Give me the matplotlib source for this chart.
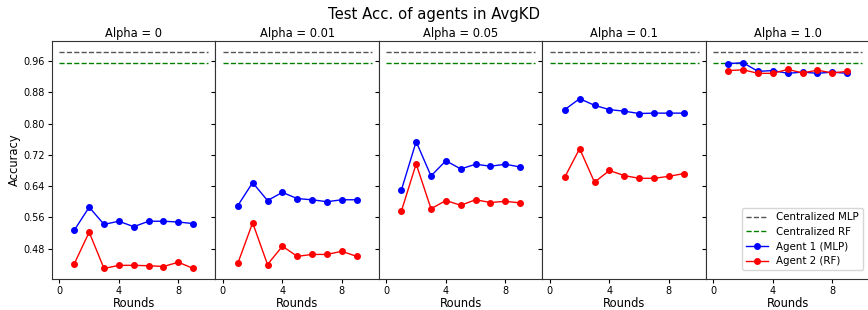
import matplotlib
matplotlib.use("Agg")
import matplotlib.pyplot as plt
import numpy as np

rounds = [1, 2, 3, 4, 5, 6, 7, 8, 9]
alphas = ["0", "0.01", "0.05", "0.1", "1.0"]
central_mlp = 0.984
central_rf = 0.955

agent1_mlp = [
    [0.527, 0.586, 0.542, 0.550, 0.536, 0.550, 0.550, 0.548, 0.544],
    [0.590, 0.649, 0.603, 0.624, 0.608, 0.605, 0.600, 0.605, 0.605],
    [0.629, 0.754, 0.666, 0.705, 0.684, 0.696, 0.691, 0.696, 0.689],
    [0.836, 0.864, 0.847, 0.836, 0.832, 0.826, 0.827, 0.827, 0.827],
    [0.954, 0.956, 0.934, 0.936, 0.929, 0.932, 0.929, 0.932, 0.929],
]
agent2_rf = [
    [0.441, 0.522, 0.429, 0.437, 0.437, 0.436, 0.434, 0.445, 0.429],
    [0.442, 0.546, 0.439, 0.486, 0.460, 0.465, 0.465, 0.473, 0.460],
    [0.575, 0.697, 0.582, 0.603, 0.591, 0.605, 0.598, 0.601, 0.597],
    [0.663, 0.736, 0.650, 0.680, 0.667, 0.660, 0.660, 0.665, 0.672],
    [0.936, 0.938, 0.929, 0.929, 0.939, 0.930, 0.937, 0.930, 0.934],
]
yticks = [0.48, 0.56, 0.64, 0.72, 0.80, 0.88, 0.96]
xticks = [0, 4, 8]

fig, axes = plt.subplots(1, 5, sharey=True, figsize=(8.68, 3.10), dpi=100)
fig.subplots_adjust(left=0.0599, right=1.0017, top=0.868, bottom=0.10, wspace=0)

for i, ax in enumerate(axes):
    ax.hlines(central_mlp, 0, 10, colors="#555555", linestyles="--", linewidth=1.0, label="Centralized MLP")
    ax.hlines(central_rf, 0, 10, colors="green", linestyles="--", linewidth=1.0, label="Centralized RF")
    ax.plot(rounds, agent1_mlp[i], "-o", color="blue", markersize=4, linewidth=1.0, label="Agent 1 (MLP)")
    ax.plot(rounds, agent2_rf[i], "-o", color="red", markersize=4, linewidth=1.0, label="Agent 2 (RF)")
    ax.set_title(f"Alpha = {alphas[i]}", fontsize=8.3, pad=3)
    ax.set_xlabel("Rounds", fontsize=8.3, labelpad=1)
    ax.set_xticks(xticks)
    ax.tick_params(labelsize=7, length=3, width=0.8, pad=2)
    ax.set_xlim(-0.5, 10.5)
    for s in ax.spines.values():
        s.set_color("#333333")

axes[0].set_yticks(yticks)
axes[0].set_yticklabels([f"{t:.2f}" for t in yticks])
axes[0].set_ylim(0.402, 1.012)
axes[0].set_ylabel("Accuracy", fontsize=8.3, labelpad=2)
axes[-1].legend(loc="lower right", fontsize=7.4, handlelength=2.1, borderpad=0.4,
                labelspacing=0.45, framealpha=0.8, bbox_to_anchor=(0.99, 0.015))
fig.suptitle("Test Acc. of agents in AvgKD", fontsize=10.7, y=0.952, va="center")

fig.savefig("out.png", dpi=100)
